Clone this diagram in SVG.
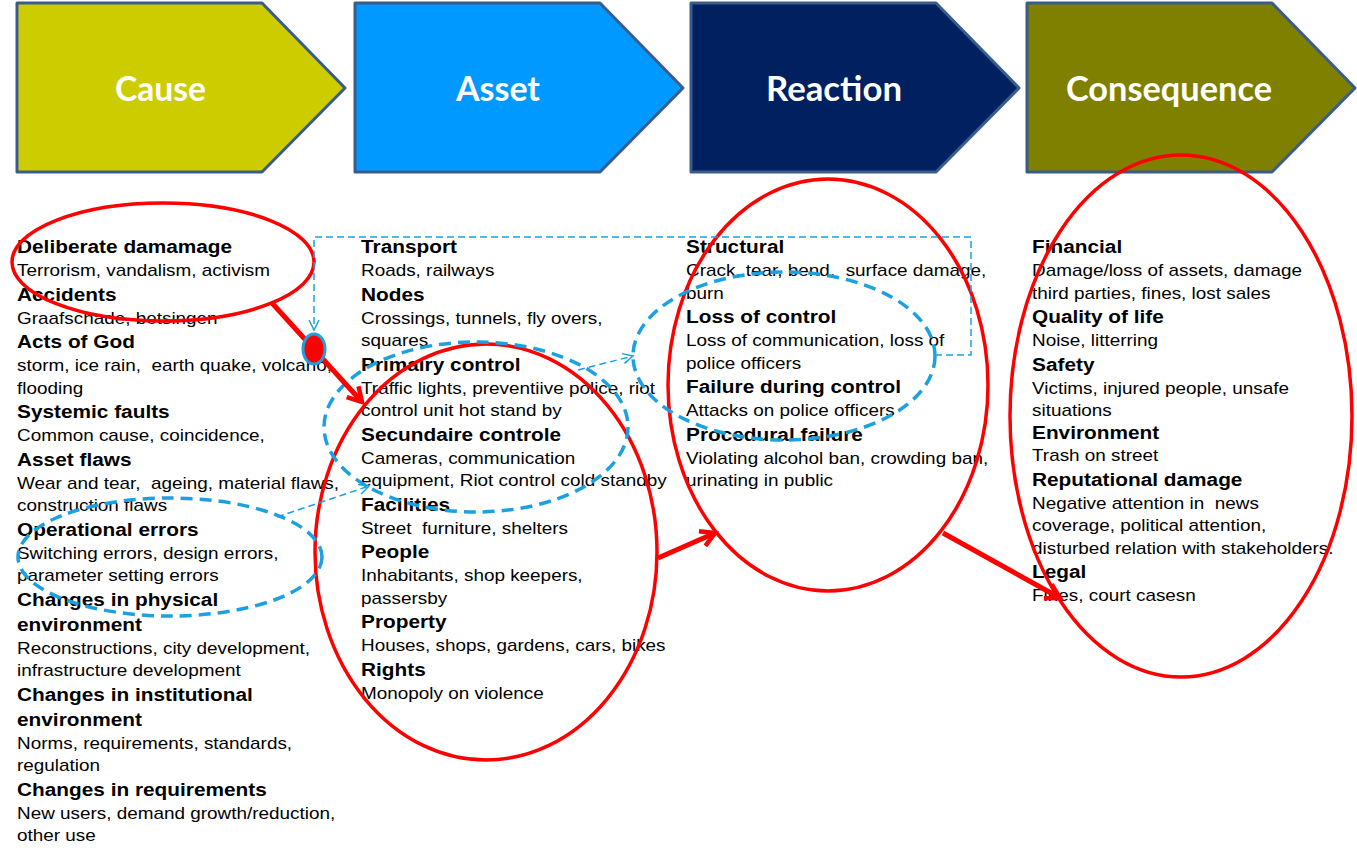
<svg xmlns="http://www.w3.org/2000/svg" width="1357" height="848" viewBox="0 0 1357 848">
<style>
.chev{stroke:#3A5C8C;stroke-width:3;stroke-linejoin:round}
.title{font-family:Lato,"Open Sans","Liberation Sans",sans-serif;font-weight:bold;font-size:34px;fill:#fff}
.h{font-family:"Liberation Sans",Arial,sans-serif;font-weight:bold;font-size:18.5px;fill:#000;white-space:pre}
.b{font-family:"Liberation Sans",Arial,sans-serif;font-size:16.8px;fill:#000;white-space:pre}
.red{fill:none;stroke:#FF0000;stroke-width:3.5}
.blue{fill:none;stroke:#1BA1E2;stroke-width:3.5;stroke-dasharray:12 7}
.redarrow{fill:none;stroke:#FF0000;stroke-width:5}
.bluearrow{fill:none;stroke:#1BA1E2;stroke-width:1.5;stroke-dasharray:7 4}
</style>
<defs>
<marker id="ra" markerUnits="userSpaceOnUse" markerWidth="24" markerHeight="24" refX="16" refY="10" orient="auto" viewBox="0 0 24 20">
<path d="M2,2 L16,10 L2,18" fill="none" stroke="#FF0000" stroke-width="4.5" stroke-linejoin="miter"/>
</marker>
<marker id="ba" markerUnits="userSpaceOnUse" markerWidth="14" markerHeight="14" refX="11" refY="6" orient="auto" viewBox="0 0 14 12">
<path d="M1,1 L11,6 L1,11" fill="none" stroke="#1BA1E2" stroke-width="1.5"/>
</marker>
</defs>
<rect width="1357" height="848" fill="#fff"/>

<g id="cause-header">
<polygon class="chev" fill="#CCCC00" points="17,3 262,3 345,88 262,172 17,172"/>
<text class="title" x="115" y="101" textLength="91" lengthAdjust="spacingAndGlyphs">Cause</text>
</g>
<g id="asset-header">
<polygon class="chev" fill="#0099FF" points="355,3 600,3 683,88 600,172 355,172"/>
<text class="title" x="456" y="101" textLength="84" lengthAdjust="spacingAndGlyphs">Asset</text>
</g>
<g id="reaction-header">
<polygon class="chev" fill="#002060" points="691,3 936,3 1019,88 936,172 691,172"/>
<text class="title" x="766" y="101" textLength="136" lengthAdjust="spacingAndGlyphs">Reaction</text>
</g>
<g id="consequence-header">
<polygon class="chev" fill="#808000" points="1027,3 1272,3 1355,88 1272,172 1027,172"/>
<text class="title" x="1066" y="101" textLength="206" lengthAdjust="spacingAndGlyphs">Consequence</text>
</g>

<g id="cause-list" transform="matrix(1.125 0 0 1 17 0)">
<text class="h" x="0" y="253">Deliberate damamage</text>
<text class="b" x="0" y="276">Terrorism, vandalism, activism</text>
<text class="h" x="0" y="301">Accidents</text>
<text class="b" x="0" y="324">Graafschade, betsingen</text>
<text class="h" x="0" y="348">Acts of God</text>
<text class="b" x="0" y="371">storm, ice rain,  earth quake, volcano,</text>
<text class="b" x="0" y="394">flooding</text>
<text class="h" x="0" y="418">Systemic faults</text>
<text class="b" x="0" y="441">Common cause, coincidence,</text>
<text class="h" x="0" y="466">Asset flaws</text>
<text class="b" x="0" y="489">Wear and tear,  ageing, material flaws,</text>
<text class="b" x="0" y="511">construction flaws</text>
<text class="h" x="0" y="536">Operational errors</text>
<text class="b" x="0" y="559">Switching errors, design errors,</text>
<text class="b" x="0" y="581">parameter setting errors</text>
<text class="h" x="0" y="606">Changes in physical</text>
<text class="h" x="0" y="631">environment</text>
<text class="b" x="0" y="654">Reconstructions, city development,</text>
<text class="b" x="0" y="676">infrastructure development</text>
<text class="h" x="0" y="701">Changes in institutional</text>
<text class="h" x="0" y="726">environment</text>
<text class="b" x="0" y="749">Norms, requirements, standards,</text>
<text class="b" x="0" y="771">regulation</text>
<text class="h" x="0" y="796">Changes in requirements</text>
<text class="b" x="0" y="819">New users, demand growth/reduction,</text>
<text class="b" x="0" y="841">other use</text>
</g>

<g id="asset-list" transform="matrix(1.125 0 0 1 361 0)">
<text class="h" x="0" y="253">Transport</text>
<text class="b" x="0" y="276">Roads, railways</text>
<text class="h" x="0" y="301">Nodes</text>
<text class="b" x="0" y="324">Crossings, tunnels, fly overs,</text>
<text class="b" x="0" y="346">squares</text>
<text class="h" x="0" y="371">Primairy control</text>
<text class="b" x="0" y="394">Traffic lights, preventiive police, riot</text>
<text class="b" x="0" y="416">control unit hot stand by</text>
<text class="h" x="0" y="441">Secundaire controle</text>
<text class="b" x="0" y="464">Cameras, communication</text>
<text class="b" x="0" y="486">equipment, Riot control cold standby</text>
<text class="h" x="0" y="511">Facilities</text>
<text class="b" x="0" y="534">Street  furniture, shelters</text>
<text class="h" x="0" y="558">People</text>
<text class="b" x="0" y="581">Inhabitants, shop keepers,</text>
<text class="b" x="0" y="604">passersby</text>
<text class="h" x="0" y="628">Property</text>
<text class="b" x="0" y="651">Houses, shops, gardens, cars, bikes</text>
<text class="h" x="0" y="676">Rights</text>
<text class="b" x="0" y="699">Monopoly on violence</text>
</g>

<g id="reaction-list" transform="matrix(1.125 0 0 1 686 0)">
<text class="h" x="0" y="253">Structural</text>
<text class="b" x="0" y="276">Crack, tear, bend,  surface damage,</text>
<text class="b" x="0" y="299">burn</text>
<text class="h" x="0" y="323">Loss of control</text>
<text class="b" x="0" y="346">Loss of communication, loss of</text>
<text class="b" x="0" y="369">police officers</text>
<text class="h" x="0" y="393">Failure during control</text>
<text class="b" x="0" y="416">Attacks on police officers</text>
<text class="h" x="0" y="441">Procedural failure</text>
<text class="b" x="0" y="464">Violating alcohol ban, crowding ban,</text>
<text class="b" x="0" y="486">urinating in public</text>
</g>

<g id="consequence-list" transform="matrix(1.125 0 0 1 1032 0)">
<text class="h" x="0" y="253">Financial</text>
<text class="b" x="0" y="276">Damage/loss of assets, damage</text>
<text class="b" x="0" y="299">third parties, fines, lost sales</text>
<text class="h" x="0" y="323">Quality of life</text>
<text class="b" x="0" y="346">Noise, litterring</text>
<text class="h" x="0" y="371">Safety</text>
<text class="b" x="0" y="394">Victims, injured people, unsafe</text>
<text class="b" x="0" y="416">situations</text>
<text class="h" x="0" y="439">Environment</text>
<text class="b" x="0" y="461">Trash on street</text>
<text class="h" x="0" y="486">Reputational damage</text>
<text class="b" x="0" y="509">Negative attention in  news</text>
<text class="b" x="0" y="531">coverage, political attention,</text>
<text class="b" x="0" y="554">disturbed relation with stakeholders.</text>
<text class="h" x="0" y="578">Legal</text>
<text class="b" x="0" y="601">Fines, court casesn</text>
</g>

<g id="highlights">
<ellipse class="red" cx="163" cy="262" rx="151" ry="59"/>
<ellipse class="red" cx="486" cy="552" rx="171" ry="208"/>
<ellipse class="red" cx="828" cy="385" rx="160" ry="206"/>
<ellipse class="red" cx="1181" cy="416" rx="171" ry="261"/>
<ellipse class="blue" cx="170" cy="557" rx="152" ry="59"/>
<ellipse class="blue" cx="476" cy="427" rx="152" ry="85"/>
<ellipse class="blue" cx="784" cy="356" rx="151" ry="84"/>
</g>

<g id="connectors">
<path class="redarrow" d="M272,303 L362,402" marker-end="url(#ra)"/>
<path class="redarrow" d="M658,558 L715,533" marker-end="url(#ra)"/>
<path class="redarrow" d="M943,533 L1060,598" marker-end="url(#ra)"/>
<path class="bluearrow" d="M935,355 L971,355 L971,237 L314,237 L314,330" marker-end="url(#ba)"/>
<path class="bluearrow" d="M578,370 L633,356" marker-end="url(#ba)"/>
<path class="bluearrow" d="M277,517 L369,486" marker-end="url(#ba)"/>
<ellipse cx="314" cy="349" rx="11" ry="15" fill="#FF0000" stroke="#1BA1E2" stroke-width="3"/>
</g>
</svg>
